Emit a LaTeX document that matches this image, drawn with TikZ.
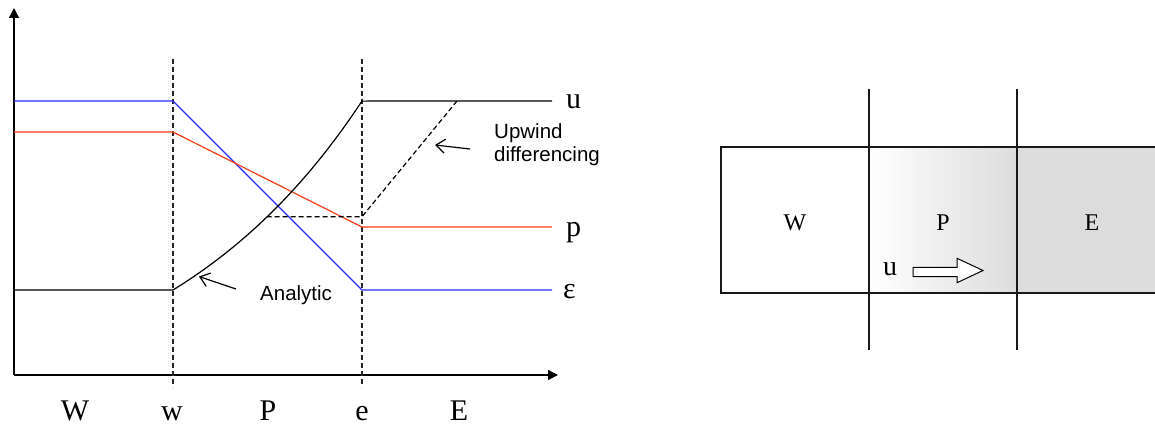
\documentclass[tikz,border=0pt]{standalone}
\usepackage{fontspec}
\setmainfont{Liberation Serif}
\newfontfamily\arialf{Liberation Sans}
\usetikzlibrary{arrows.meta,shadings}
\definecolor{cblue}{RGB}{40,40,255}
\definecolor{cred}{RGB}{255,60,20}
\definecolor{cgray}{RGB}{220,220,220}
\begin{document}
\begin{tikzpicture}[x=1pt,y=-1pt,
  axisline/.style={line width=1.3pt,-{Triangle[length=10pt,width=10pt]}},
  guide/.style={line width=1.1pt,dash pattern=on 5pt off 3pt,black!85},
  updash/.style={line width=1.2pt,dash pattern=on 5pt off 3pt},
  prof/.style={line width=1.2pt},
  annot/.style={line width=1.2pt,-{Straight Barb[length=9pt,width=14pt]}},
  bigl/.style={inner sep=0pt,text depth=0pt,font=\fontsize{30}{36}\selectfont},
  sidel/.style={inner sep=0pt,anchor=base west,font=\fontsize{30}{36}\selectfont},
  notel/.style={inner sep=0pt,anchor=base west,font=\arialf\fontsize{20.5}{23.3}\selectfont,align=left},
  celll/.style={inner sep=0pt,font=\fontsize{24}{28}\selectfont},
  gridl/.style={line width=1.3pt,black!90}
]
\useasboundingbox (0,0) rectangle (1155,425);

% ---------- left chart ----------
\coordinate (O) at (14,375);
\coordinate (ytip) at (14,8);
\coordinate (xtip) at (558,375);
\draw[axisline] (O) -- (ytip);
\draw[axisline] (O) -- (xtip);

\draw[guide] (173,59) -- (173,387);
\draw[guide] (362,59) -- (362,387);

% blue (epsilon)
\draw[prof,cblue] (14,101) -- (173,101) -- (362,290) -- (552,290);
% red (p)
\draw[prof,cred] (14,132) -- (173,132) -- (362,227) -- (552,227);
% black (u) analytic
\draw[prof] (14,290) -- (173,290)
  plot[domain=0:1,samples=50] ({173+189*\x},{290-189*(exp(0.9*\x)-1)/(exp(0.9)-1)})
  -- (552,101);
% upwind differencing
\draw[updash] (266.7,216.7) -- (362,216.7) -- (457,101);

% labels
\node[sidel] (lu) at (566,108.5) {u};
\node[sidel] (lp) at (566,236.5) {p};
\node[sidel] (le) at (563,298.5) {ε};

\node[notel] (up) at (494,161.7) {Upwind\\differencing};
\coordinate (upfrom) at (470,149);
\coordinate (upto) at (435,145);
\draw[annot] (upfrom) -- (upto);

\node[notel] (an) at (260,300) {Analytic};
\coordinate (anfrom) at (236,289);
\coordinate (anto) at (199,276.5);
\draw[annot] (anfrom) -- (anto);

\node[bigl,anchor=base] (lW) at (75,420) {W};
\node[bigl,anchor=base] (lw) at (172,420) {w};
\node[bigl,anchor=base] (lP) at (268,420) {P};
\node[bigl,anchor=base] (le2) at (362,420) {e};
\node[bigl,anchor=base] (lE) at (459,420) {E};

% ---------- right cells ----------
\shade[left color=white,right color=cgray] (869,147) rectangle (1017,293);
\fill[cgray] (1017,147) rectangle (1160,293);
\draw[gridl] (721,147) rectangle (1160,293);
\draw[gridl] (869,89) -- (869,350);
\draw[gridl] (1017,89) -- (1017,350);

\node[celll] (cW) at (795,223) {W};
\node[celll] (cP) at (943,223) {P};
\node[celll] (cE) at (1092,223) {E};
\node[inner sep=0pt,anchor=base,font=\fontsize{28}{32}\selectfont] (cu) at (890,275) {u};
\draw[fill=white,line width=1pt] (913,267.3) -- (957,267.3) -- (957,258.3) -- (983,270.5)
  -- (957,282.7) -- (957,276.7) -- (913,276.7) -- cycle;
\end{tikzpicture}
\end{document}
